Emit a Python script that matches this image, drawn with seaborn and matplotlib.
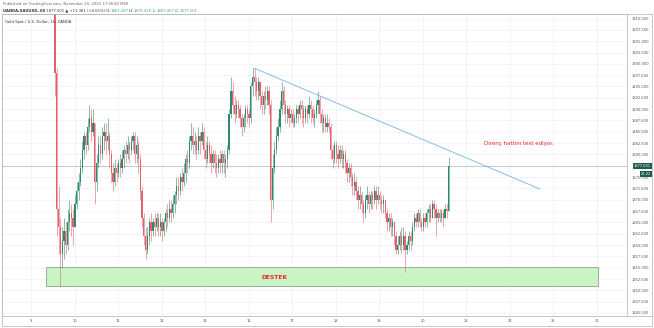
import matplotlib
matplotlib.use("Agg")
import matplotlib.pyplot as plt
import matplotlib.transforms as mtransforms
from matplotlib.patches import Rectangle
from matplotlib.lines import Line2D
import numpy as np
import pandas as pd
import seaborn as sns

# ---------------- data ----------------
day_labels = ["9", "10", "11", "12", "13", "16", "17", "18", "19", "20", "23", "24", "25", "26"]
price_ticks = [1845.0, 1847.5, 1850.0, 1852.5, 1855.0, 1857.5, 1860.0, 1862.5, 1865.0,
               1867.5, 1870.0, 1872.5, 1875.0, 1877.5, 1880.0, 1882.5, 1885.0, 1887.5,
               1890.0, 1892.5, 1895.0, 1897.5, 1900.0, 1902.5, 1905.0, 1907.5, 1910.0]

first_open = 1955.0      # open of first visible hourly candle (Nov 9)
start_day = 0.55         # first candle, in trading-day units after Nov 9 00:00

closes = [
    1898, 1868, 1864, 1858, 1861, 1863, 1860, 1865, 1867, 1866,
    1864, 1869, 1872, 1874, 1877, 1881, 1884, 1882, 1886, 1888,
    1885, 1887, 1874, 1878, 1882, 1880, 1884, 1885, 1883, 1884,
    1880, 1876, 1874, 1877, 1876, 1878, 1877, 1879, 1881, 1880,
    1882, 1881, 1883, 1884, 1880, 1882, 1879, 1872, 1866, 1862,
    1859, 1862, 1865, 1863, 1865, 1864, 1866, 1864, 1865, 1863,
    1865, 1867, 1866, 1868, 1867, 1869, 1871, 1873, 1872, 1875,
    1874, 1876, 1879, 1878, 1883, 1884, 1882, 1883, 1881, 1884,
    1883, 1885, 1881, 1879, 1882, 1880, 1878, 1880, 1878, 1877,
    1879, 1878, 1880, 1878, 1879, 1881, 1889, 1894, 1891, 1889,
    1891, 1890, 1888, 1886, 1888, 1890, 1889, 1888, 1895, 1897,
    1896, 1894, 1896, 1893, 1891, 1893, 1892, 1894, 1891, 1870,
    1877, 1881, 1884, 1886, 1890, 1894, 1891, 1889, 1890, 1888,
    1889, 1887, 1888, 1890, 1889, 1891, 1890, 1888, 1890, 1889,
    1891, 1890, 1888, 1889, 1891, 1892, 1889, 1887, 1888, 1886,
    1887, 1886, 1881, 1879, 1882, 1880, 1879, 1881, 1879, 1880,
    1878, 1876, 1877, 1875, 1873, 1874, 1872, 1870, 1871, 1869,
    1867, 1870, 1871, 1869, 1871, 1870, 1872, 1870, 1871, 1870,
    1869, 1870, 1867, 1865, 1866, 1864, 1865, 1862, 1859, 1860,
    1862, 1860, 1862, 1859, 1860, 1862, 1861, 1864, 1866, 1865,
    1867, 1865, 1864, 1866, 1865, 1867, 1868, 1866, 1869, 1868,
    1866, 1867, 1866, 1867, 1866, 1868, 1867.497, 1877.501,
]
highs = [
    1962, 1899, 1873, 1866, 1864, 1866, 1865, 1868, 1870, 1869,
    1868, 1871, 1874, 1876, 1879, 1883, 1885, 1885, 1888, 1891,
    1890, 1890, 1887, 1880, 1884, 1884, 1886, 1887, 1887, 1888,
    1885, 1881, 1878, 1879, 1878, 1879, 1880, 1881, 1882, 1883,
    1884, 1883, 1884, 1885, 1885, 1884, 1883, 1880, 1873, 1867,
    1864, 1864, 1866, 1867, 1866, 1867, 1867, 1867, 1867, 1866,
    1866, 1868, 1869, 1870, 1870, 1871, 1872, 1875, 1875, 1876,
    1877, 1878, 1880, 1881, 1884, 1887, 1886, 1885, 1884, 1886,
    1885, 1887, 1886, 1883, 1884, 1883, 1882, 1881, 1881, 1880,
    1880, 1881, 1881, 1881, 1880, 1882, 1890, 1897, 1896, 1893,
    1892, 1892, 1891, 1889, 1889, 1891, 1891, 1890, 1896, 1899,
    1899, 1897, 1897, 1896, 1894, 1894, 1895, 1895, 1895, 1892,
    1880, 1883, 1886, 1888, 1892, 1896, 1895, 1892, 1891, 1891,
    1890, 1890, 1889, 1891, 1891, 1892, 1892, 1891, 1891, 1891,
    1893, 1892, 1891, 1890, 1892, 1894, 1893, 1890, 1889, 1889,
    1889, 1888, 1887, 1882, 1883, 1883, 1882, 1882, 1882, 1881,
    1881, 1879, 1878, 1878, 1876, 1876, 1875, 1873, 1873, 1872,
    1870, 1871, 1873, 1872, 1872, 1872, 1873, 1873, 1873, 1872,
    1871, 1871, 1870, 1868, 1867, 1867, 1866, 1865, 1863, 1862,
    1863, 1864, 1864, 1863, 1861, 1863, 1863, 1865, 1867, 1867,
    1868, 1868, 1866, 1867, 1867, 1868, 1869, 1869, 1870, 1870,
    1869, 1868, 1868, 1868, 1868, 1869, 1869, 1879.418,
]
lows = [
    1893, 1862, 1858, 1851, 1855, 1857, 1858, 1859, 1863, 1862,
    1860, 1864, 1868, 1870, 1873, 1876, 1879, 1880, 1881, 1885,
    1883, 1884, 1869, 1872, 1877, 1878, 1879, 1881, 1880, 1881,
    1877, 1874, 1872, 1873, 1874, 1875, 1875, 1876, 1877, 1878,
    1879, 1878, 1880, 1881, 1878, 1878, 1876, 1870, 1864, 1860,
    1857, 1858, 1860, 1861, 1862, 1862, 1863, 1862, 1862, 1861,
    1862, 1863, 1864, 1865, 1865, 1866, 1867, 1869, 1870, 1871,
    1872, 1873, 1874, 1876, 1877, 1881, 1880, 1880, 1879, 1880,
    1880, 1882, 1879, 1877, 1878, 1878, 1876, 1877, 1876, 1875,
    1876, 1876, 1876, 1876, 1875, 1877, 1880, 1888, 1889, 1887,
    1888, 1888, 1886, 1884, 1885, 1886, 1887, 1886, 1887, 1893,
    1893, 1892, 1892, 1890, 1889, 1889, 1890, 1891, 1889, 1865,
    1868, 1876, 1880, 1883, 1885, 1889, 1889, 1887, 1887, 1886,
    1887, 1886, 1886, 1887, 1887, 1888, 1887, 1886, 1887, 1887,
    1888, 1887, 1887, 1886, 1888, 1889, 1887, 1885, 1885, 1885,
    1885, 1885, 1879, 1877, 1878, 1878, 1877, 1878, 1877, 1877,
    1876, 1874, 1874, 1873, 1871, 1871, 1870, 1868, 1868, 1867,
    1865, 1866, 1868, 1867, 1868, 1868, 1869, 1868, 1869, 1868,
    1867, 1867, 1866, 1863, 1863, 1862, 1862, 1860, 1858, 1858,
    1859, 1858, 1859, 1854, 1858, 1859, 1859, 1860, 1863, 1864,
    1864, 1864, 1863, 1863, 1864, 1864, 1865, 1865, 1866, 1866,
    1862, 1865, 1865, 1865, 1864, 1866, 1866, 1867.457,
]

last_price = 1877.501
last_time = "21:22"
last_time_level = 1875.7
trend_days = [5.12, 11.69]
trend_prices = [1899.07, 1872.36]
support_days = [0.345, 13.02]
support_prices = [1851.0, 1855.1]
note_text = "Direnç hattını test ediyor."
note_day, note_price = 11.2, 1882.5
support_text = "DESTEK"
support_label_day, support_label_price = 5.6, 1852.9

header1 = "Published on TradingView.com, November 20, 2020 17:38:40 MSK"
header2 = [("OANDA:XAUUSD, 60", "#333333", "bold"),
           (" 1877.501 \u25b2 +11.381 (+0.61%) O:", "#333333", "normal"),
           ("1867.497", "#3fa58f", "normal"), (" H:", "#333333", "normal"),
           ("1879.418", "#3fa58f", "normal"), (" L:", "#333333", "normal"),
           ("1867.457", "#3fa58f", "normal"), (" C:", "#333333", "normal"),
           ("1877.501", "#3fa58f", "normal")]
chart_title = "Gold Spot / U.S. Dollar, 1h, OANDA"

# ---------------- figure ----------------
sns.set_theme(style="white")
plt.rcParams['font.family'] = ['DejaVu Sans']

W, H = 654, 328
fig = plt.figure(figsize=(W / 100, H / 100), dpi=100)
fig.patch.set_facecolor("white")
ax = fig.add_axes([2 / W, 1 - 315.7 / H, 625 / W, 301.7 / H])
ax.set_facecolor("white")

n = len(closes)
opens = [first_open] + closes[:-1]
df = pd.DataFrame({"x": start_day + np.arange(n) / 24.0, "open": opens,
                   "high": highs, "low": lows, "close": closes})
df["hi"] = df[["high", "open", "close"]].max(axis=1)
df["lo"] = df[["low", "open", "close"]].min(axis=1)
up = df["close"] >= df["open"]
col = np.where(up, "#2f8a6d", "#e5606d")

# support zone
ax.add_patch(Rectangle((support_days[0], support_prices[0]),
                       support_days[1] - support_days[0],
                       support_prices[1] - support_prices[0],
                       facecolor="#c8f5c3", edgecolor="#9a9a9a", lw=0.6, zorder=2))

ax.axhline(last_price, color="#b5b5b5", lw=0.5, zorder=2.5)

ax.vlines(df["x"], df["lo"], df["hi"], colors=col, lw=0.4, zorder=3)
body = (df["close"] - df["open"]).abs().clip(lower=0.15)
bottom = df[["open", "close"]].min(axis=1)
ax.bar(df["x"], body, bottom=bottom, width=0.028, color=col, lw=0, zorder=4)

sns.lineplot(x=trend_days, y=trend_prices, ax=ax, color="#72b6e2", lw=0.6,
             zorder=5, legend=False)

ax.text(note_day, note_price, note_text, color="#e8262b", fontsize=4.0,
        ha="center", va="center", zorder=6)
ax.text(support_label_day, support_label_price, support_text, color="#e8262b",
        fontsize=4.3, fontweight="bold", ha="center", va="center", zorder=6)

ax.set_xlim((2 - 31) / 43.54, (627 - 31) / 43.54)
ax.set_ylim(1844.4, 1911.0)
ax.set_xticks(range(len(day_labels)))
ax.set_xticklabels(day_labels)
ax.set_yticks(price_ticks)
ax.set_yticklabels([f"{p:.3f}" for p in price_ticks])
ax.yaxis.tick_right()
ax.tick_params(axis="y", length=0, pad=3, labelsize=2.6, labelcolor="#555555")
ax.tick_params(axis="x", length=0, pad=2.5, labelsize=2.6, labelcolor="#555555")
ax.grid(True, color="#eef0f4", lw=0.5)
ax.set_axisbelow(True)
for s in ax.spines.values():
    s.set_color("#bdbdbd")
    s.set_linewidth(0.6)

# hide the price tick label hidden behind the last-price badge in the reference
for lbl, p in zip(ax.get_yticklabels(), price_ticks):
    if abs(p - last_price) < 2.0:
        lbl.set_visible(False)

# price label boxes
trans = mtransforms.blended_transform_factory(ax.transAxes, ax.transData)
ax.text((651 - 2) / 625, last_price, f"{last_price:.3f}", transform=trans,
        ha="right", va="center", fontsize=2.6, color="white", clip_on=False, zorder=8,
        bbox=dict(boxstyle="square,pad=0.25", fc="#1d5b51", ec="none"))
ax.text((651 - 2) / 625, last_time_level, last_time, transform=trans,
        ha="right", va="center", fontsize=2.6, color="white", clip_on=False, zorder=8,
        bbox=dict(boxstyle="square,pad=0.25", fc="#1d5b51", ec="none"))

# frame around chart + price scale
fig.add_artist(Rectangle((2 / W, 1 - 326 / H), 650 / W, 312 / H, transform=fig.transFigure,
                         fill=False, ec="#bdbdbd", lw=0.6))
fig.add_artist(Line2D([627 / W, 652 / W], [1 - 315.7 / H, 1 - 315.7 / H],
                      transform=fig.transFigure, color="#bdbdbd", lw=0.6))

# header texts
fig.text(3 / W, 1 - 4.5 / H, header1, fontsize=2.7, color="#666666", va="center", ha="left")
renderer = fig.canvas.get_renderer()
xpos = 3
for s, c, w in header2:
    t = fig.text(xpos / W, 1 - 10.5 / H, s, fontsize=2.7, color=c, fontweight=w,
                 va="center", ha="left")
    xpos += t.get_window_extent(renderer=renderer).width
fig.text(5 / W, 1 - 22 / H, chart_title, fontsize=2.7, color="#333333", va="center", ha="left")

fig.savefig("out.png", dpi=100, facecolor="white")
